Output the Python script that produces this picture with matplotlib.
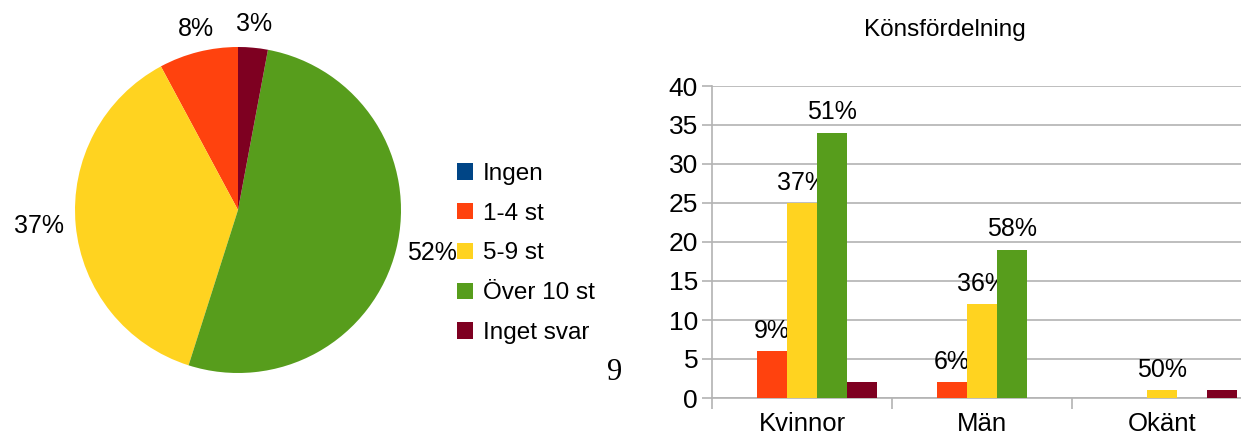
import numpy as np
import matplotlib.pyplot as plt
from matplotlib.patches import Patch

plt.rcParams['font.family'] = ['Liberation Sans', 'DejaVu Sans']

# data
kategorier = ['Ingen', '1-4 st', '5-9 st', 'Över 10 st', 'Inget svar']
farger = ['#004586', '#ff420e', '#ffd320', '#579d1c', '#7e0021']
pie_varden = [0, 8, 38, 53, 3]

grupper = ['Kvinnor', 'Män', 'Okänt']
kvinnor = [0, 6, 25, 34, 2]
man = [0, 2, 12, 19, 0]
okant = [0, 0, 1, 0, 1]
etiketter = [
    ['', '9%', '37%', '51%', ''],
    ['', '6%', '36%', '58%', ''],
    ['', '', '50%', '', ''],
]

W, H = 1241, 443
fig = plt.figure(figsize=(W / 100, H / 100), dpi=100)

# --- pie ---
cx, cy, r = 238, 210, 163
ax1 = fig.add_axes([(cx - r) / W, (H - cy - r) / H, 2 * r / W, 2 * r / H])
total = sum(pie_varden)
pie_labels = [f"{round(v / total * 100)}%" if v > 0 else '' for v in pie_varden]
wedges, texts = ax1.pie(pie_varden, colors=farger, startangle=90, counterclock=True,
                        labels=pie_labels, labeldistance=1.07,
                        textprops={'fontsize': 18},
                        wedgeprops={'linewidth': 0})
for t in texts:
    x, y = t.get_position()
    ang = np.arctan2(y, x)
    c, s = np.cos(ang), np.sin(ang)
    t.set_ha('center' if abs(c) < 0.5 else ('left' if c > 0 else 'right'))
    t.set_va('bottom' if s > 0.5 else ('top' if s < -0.5 else 'center'))
ax1.set_xlim(-1, 1)
ax1.set_ylim(-1, 1)

handles = [Patch(facecolor=f, edgecolor='none') for f in farger]
fig.legend(handles, kategorier, loc='upper left', bbox_to_anchor=(457 / W, 1 - 163 / H),
           frameon=False, fontsize=17.5, handlelength=0.65, handleheight=0.65,
           handletextpad=0.4, labelspacing=0.73, borderaxespad=0, borderpad=0)

# --- bars ---
ax2 = fig.add_axes([712 / W, 1 - 398 / H, 540 / W, 312 / H])
x = np.arange(len(grupper))
bredd = 1 / 6
data = np.array([kvinnor, man, okant])
for i in range(len(kategorier)):
    pos = x + (i - 2) * bredd
    bars = ax2.bar(pos, data[:, i], width=bredd, color=farger[i], linewidth=0, zorder=3)
    for j, b in enumerate(bars):
        if etiketter[j][i]:
            ax2.annotate(etiketter[j][i], (b.get_x() + b.get_width() / 2, b.get_height()),
                         xytext=(0, 6), textcoords='offset points',
                         ha='center', va='bottom', fontsize=18)

ax2.set_ylim(0, 40)
ax2.set_xlim(-0.5, 2.5)
ax2.set_yticks(range(0, 41, 5))
ax2.yaxis.grid(True, color='#b3b3b3', linewidth=1.2, zorder=0)
ax2.set_xticks([-0.5, 0.5, 1.5, 2.5])
ax2.set_xticklabels([])
ax2.set_xticks(x, minor=True)
ax2.set_xticklabels(grupper, minor=True, fontsize=18.5)
ax2.tick_params(axis='x', which='minor', length=0, pad=10)
ax2.tick_params(axis='x', which='major', length=8, color='#b3b3b3', width=1.2)
ax2.tick_params(axis='y', length=7, color='#b3b3b3', width=1.2, labelsize=19, pad=3)
for sp in ['top', 'right']:
    ax2.spines[sp].set_visible(False)
for sp in ['left', 'bottom']:
    ax2.spines[sp].set_color('#b3b3b3')
    ax2.spines[sp].set_linewidth(1.2)

fig.text(945 / W, 1 - 30 / H, 'Könsfördelning', ha='center', va='center', fontsize=17.5)
fig.text(615 / W, 1 - 373 / H, '9', ha='center', va='center', fontsize=22,
         family=['Liberation Serif', 'DejaVu Serif'])

fig.savefig('out.png', dpi=100)
